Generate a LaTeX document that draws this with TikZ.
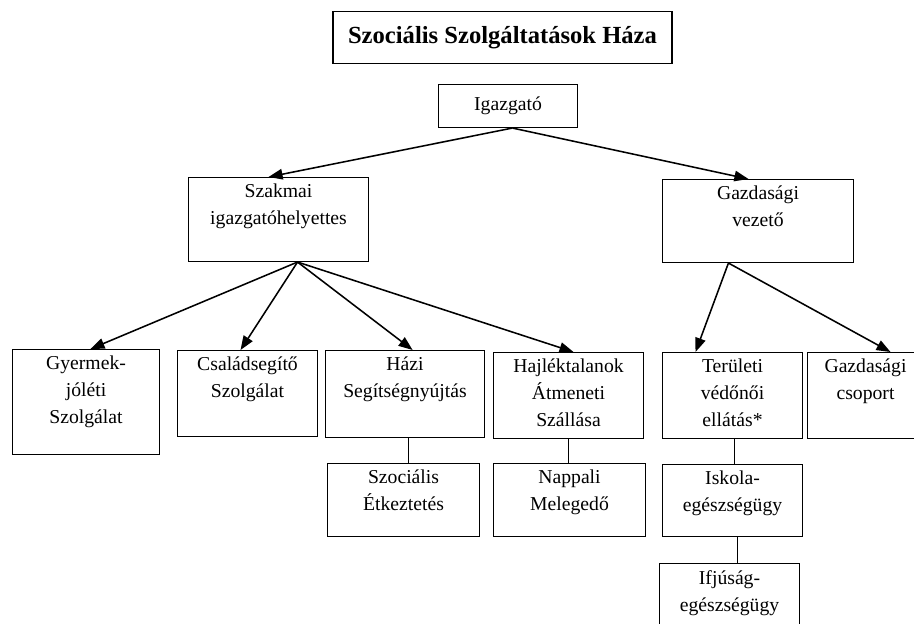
\documentclass[tikz,border=0pt]{standalone}
\usepackage{fontspec}
\setmainfont{Liberation Serif}
\usetikzlibrary{arrows.meta,positioning}

\begin{document}
\begin{tikzpicture}[
    box/.style={draw,line width=0.75pt,anchor=north west,inner sep=0pt},
    lbl/.style={align=center,inner sep=0pt,font=\fontsize{14}{19.2}\selectfont,execute at begin node=\strut},
    link/.style={line width=1.1pt,-{Triangle[length=10pt,width=7.5pt]}},
    tie/.style={line width=0.75pt}
  ]
  \clip (0,0) rectangle (22.85,-15.6);
  % Title
  \node[box,line width=0.9pt,anchor=center,minimum width=8.475cm,minimum height=1.3cm,font=\fontsize{17.5}{21}\selectfont\bfseries] (title) at (12.5625,-0.94) {Szociális Szolgáltatások Háza};

  % Management
  \node[box,minimum width=3.475cm,minimum height=1.075cm] (igazgato) at (10.95,-2.1) {};
  \node[box,minimum width=4.5cm,minimum height=2.1cm] (szakmai) at (4.7,-4.425) {};
  \node[box,minimum width=4.775cm,minimum height=2.075cm] (gazdvez) at (16.55,-4.475) {};

  % Units
  \node[box,minimum width=3.675cm,minimum height=2.625cm] (gyermek) at (0.3,-8.725) {};
  \node[box,minimum width=3.5cm,minimum height=2.15cm] (csalad) at (4.425,-8.75) {};
  \node[box,minimum width=3.975cm,minimum height=2.175cm] (hazi) at (8.125,-8.75) {};
  \node[box,minimum width=3.75cm,minimum height=2.15cm] (hajlek) at (12.325,-8.8) {};
  \node[box,minimum width=3.5cm,minimum height=2.15cm] (terulet) at (16.55,-8.8) {};
  \node[box,minimum width=2.9cm,minimum height=2.15cm] (gazdcsop) at (20.175,-8.8) {};
  \node[box,minimum width=3.8cm,minimum height=1.825cm] (szocet) at (8.175,-11.575) {};
  \node[box,minimum width=3.8cm,minimum height=1.825cm] (nappali) at (12.325,-11.575) {};
  \node[box,minimum width=3.5cm,minimum height=1.8cm] (iskola) at (16.55,-11.6) {};
  \node[box,minimum width=3.5cm,minimum height=2.0cm] (ifjusag) at (16.475,-14.075) {};

  % Texts
  \node[lbl,below=5pt of igazgato.north] (igazgato-t) {Igazgató};
  \node[lbl,below=5pt of szakmai.north] (szakmai-t) {Szakmai\\igazgatóhelyettes};
  \node[lbl,below=5pt of gazdvez.north] (gazdvez-t) {Gazdasági\\vezető};
  \node[lbl,below=5pt of gyermek.north] (gyermek-t) {Gyermek-\\jóléti\\Szolgálat};
  \node[lbl,below=5pt of csalad.north] (csalad-t) {Családsegítő\\Szolgálat};
  \node[lbl,below=5pt of hazi.north] (hazi-t) {Házi\\Segítségnyújtás};
  \node[lbl,below=5pt of hajlek.north] (hajlek-t) {Hajléktalanok\\Átmeneti\\Szállása};
  \node[lbl,below=5pt of terulet.north] (terulet-t) {Területi\\védőnői\\ellátás*};
  \node[lbl,below=5pt of gazdcsop.north] (gazdcsop-t) {Gazdasági\\csoport};
  \node[lbl,below=5pt of szocet.north] (szocet-t) {Szociális\\Étkeztetés};
  \node[lbl,below=5pt of nappali.north] (nappali-t) {Nappali\\Melegedő};
  \node[lbl,below=5pt of iskola.north] (iskola-t) {Iskola-\\egészségügy};
  \node[lbl,below=5pt of ifjusag.north] (ifjusag-t) {Ifjúság-\\egészségügy};

  % Arrows
  \draw[link] ([xshift=0.11cm]igazgato.south) -- ([xshift=-0.25cm]szakmai.north);
  \draw[link] ([xshift=0.11cm]igazgato.south) -- ([xshift=-0.24cm]gazdvez.north);
  \draw[link] ([xshift=0.475cm]szakmai.south) -- ([xshift=0.11cm]gyermek.north);
  \draw[link] ([xshift=0.475cm]szakmai.south) -- ([xshift=-0.175cm]csalad.north);
  \draw[link] ([xshift=0.475cm]szakmai.south) -- ([xshift=0.19cm]hazi.north);
  \draw[link] ([xshift=0.475cm]szakmai.south) -- ([xshift=0.125cm]hajlek.north);
  \draw[link] ([xshift=-0.74cm]gazdvez.south) -- ([xshift=-0.925cm]terulet.north);
  \draw[link] ([xshift=-0.74cm]gazdvez.south) -- ([xshift=0.625cm]gazdcsop.north);

  % Plain lines
  \draw[tie] ([xshift=0.09cm]hazi.south) -- ([xshift=0.09cm]hazi.south |- szocet.north);
  \draw[tie] (hajlek.south) -- (hajlek.south |- nappali.north);
  \draw[tie] ([xshift=0.05cm]terulet.south) -- ([xshift=0.05cm]terulet.south |- iskola.north);
  \draw[tie] ([xshift=0.125cm]iskola.south) -- ([xshift=0.125cm]iskola.south |- ifjusag.north);
\end{tikzpicture}
\end{document}
